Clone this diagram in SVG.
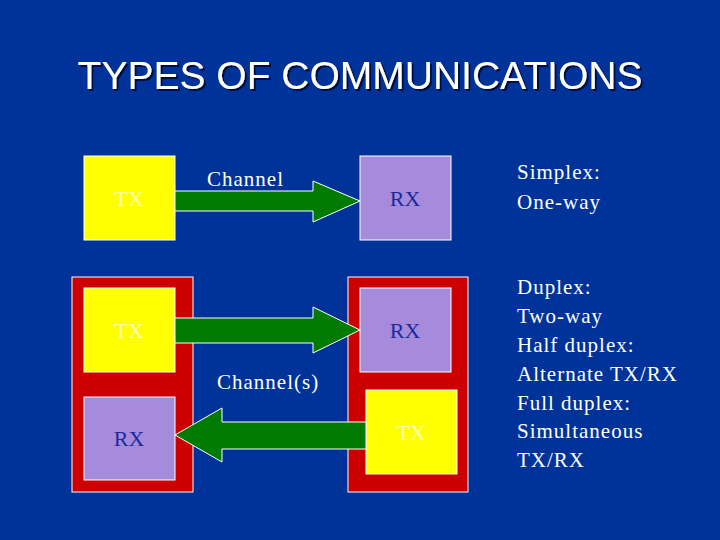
<svg xmlns="http://www.w3.org/2000/svg" width="720" height="540" viewBox="0 0 720 540">
<defs>
<filter id="sh" x="-5%" y="-20%" width="110%" height="150%"><feDropShadow dx="2" dy="2" stdDeviation="0.5" flood-color="#000a40"/></filter>
</defs>
<style>
.tx{fill:#ffff00;stroke:#fff;stroke-width:1}
.rx{fill:#a68bdc;stroke:#fff;stroke-width:1}
.dev{fill:#cc0000;stroke:#fff;stroke-width:1}
.arr{fill:#007a00;stroke:#fff;stroke-width:1}
.l{font-family:"Liberation Serif",serif;font-size:22px;text-anchor:middle}
.lt{fill:#ffffb0}
.lr{fill:#1a2a99}
.w{font-family:"Liberation Serif",serif;font-size:21px;fill:#fff;letter-spacing:1px}
</style>
<rect width="720" height="540" fill="#003399"/>
<text x="360" y="89" font-family="Liberation Sans,sans-serif" font-size="39" fill="#fff" text-anchor="middle" filter="url(#sh)">TYPES OF COMMUNICATIONS</text>
<g id="dev-left"><rect class="dev" x="72" y="277" width="121" height="215"/></g>
<g id="dev-right"><rect class="dev" x="348" y="277" width="120" height="215"/></g>
<g id="tx1"><rect class="tx" x="84" y="156" width="91" height="84"/><text class="l lt" x="129" y="206">TX</text></g>
<g id="rx1"><rect class="rx" x="360" y="156" width="91" height="84"/><text class="l lr" x="405" y="206">RX</text></g>
<g id="tx2"><rect class="tx" x="84" y="288" width="91" height="84"/><text class="l lt" x="129" y="338">TX</text></g>
<g id="rx2"><rect class="rx" x="84" y="397" width="91" height="83"/><text class="l lr" x="129" y="446">RX</text></g>
<g id="rx3"><rect class="rx" x="360" y="288" width="91" height="84"/><text class="l lr" x="405" y="338">RX</text></g>
<g id="tx3"><rect class="tx" x="366" y="390" width="91" height="84"/><text class="l lt" x="411" y="440">TX</text></g>
<g id="connectors">
<polygon class="arr" points="175,191 313,191 313,181 360,201 313,222 313,211 175,211"/>
<polygon class="arr" points="175,318 313,318 313,307 360,330 313,353 313,343 175,343"/>
<polygon class="arr" points="366,422 222,422 222,408 175,435 222,462 222,449 366,449"/>
</g>
<text class="w" x="207" y="186">Channel</text>
<text class="w" x="217" y="389">Channel(s)</text>
<g class="w">
<text x="517" y="179">Simplex:</text>
<text x="517" y="209">One-way</text>
<text x="517" y="294">Duplex:</text>
<text x="517" y="323">Two-way</text>
<text x="517" y="352">Half duplex:</text>
<text x="517" y="381">Alternate TX/RX</text>
<text x="517" y="410">Full duplex:</text>
<text x="517" y="438">Simultaneous</text>
<text x="517" y="467">TX/RX</text>
</g>
</svg>
